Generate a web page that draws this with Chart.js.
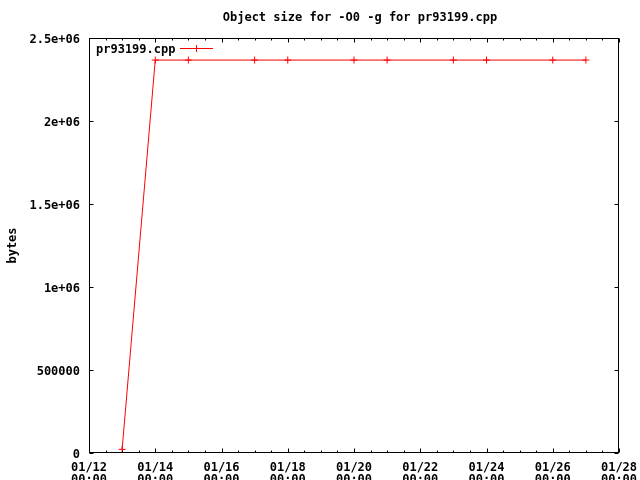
<!DOCTYPE html>
<html>
<head>
<meta charset="utf-8">
<script src="https://cdn.jsdelivr.net/npm/chart.js@4.4.1/dist/chart.umd.min.js"></script>
<style>
html,body{margin:0;padding:0;background:#fff;}
canvas{display:block;}
</style>
</head>
<body>
<canvas id="c" width="640" height="480"></canvas>
<script>
// ---- data ----
const dates = ['01/13','01/14','01/15','01/17','01/18','01/20','01/21','01/23','01/24','01/26','01/27'];
const sizes = [22000, 2367000, 2367000, 2367000, 2367000, 2367000, 2367000, 2367000, 2367000, 2367000, 2367000];
const xTickLabels = ['01/12','01/14','01/16','01/18','01/20','01/22','01/24','01/26','01/28'];
const xTimeLabel = '00:00';
const yTickLabels = ['0','500000','1e+06','1.5e+06','2e+06','2.5e+06'];
const seriesName = 'pr93199.cpp';
const titleText = 'Object size for -O0 -g for pr93199.cpp';
const yTitle = 'bytes';

const FONT = "'DejaVu Sans Mono', 'Liberation Mono', monospace";
const startDay = 12;
const dayOf = s => parseInt(s.split('/')[1], 10) - startDay;
const points = dates.map((d, i) => ({x: dayOf(d), y: sizes[i]}));

const framePlugin = {
  id: 'frame',
  afterDraw(chart) {
    const ctx = chart.ctx, a = chart.chartArea;
    const xs = chart.scales.x, ys = chart.scales.y;
    const L = Math.round(a.left) + 0.5, R = Math.round(a.right) - 0.5;
    const T = Math.round(a.top) + 0.5, B = Math.round(a.bottom) - 0.5;
    ctx.save();
    ctx.strokeStyle = '#000';
    ctx.lineWidth = 1;
    ctx.beginPath();
    // x ticks (major every 2 days, minor every 12 h)
    for (let v = xs.min; v <= xs.max + 1e-9; v += 0.5) {
      const px = Math.round(xs.getPixelForValue(v)) + 0.5;
      const len = (Math.abs(v % 2) < 1e-9) ? 4 : 2;
      ctx.moveTo(px, B); ctx.lineTo(px, B - len);
      ctx.moveTo(px, T); ctx.lineTo(px, T + len);
    }
    // y ticks
    for (let v = ys.min; v <= ys.max + 1; v += 500000) {
      const py = Math.round(ys.getPixelForValue(v)) + 0.5;
      ctx.moveTo(L, py); ctx.lineTo(L + 4, py);
      ctx.moveTo(R, py); ctx.lineTo(R - 4, py);
    }
    ctx.stroke();
    ctx.strokeRect(L, T, R - L, B - T);

    // title
    ctx.fillStyle = '#000';
    ctx.font = 'bold 12px ' + FONT;
    ctx.textAlign = 'center';
    ctx.textBaseline = 'middle';
    ctx.fillText(titleText, 360, 18);

    // legend
    const ds = chart.data.datasets[0];
    ctx.textAlign = 'left';
    ctx.fillText(ds.label, 96, 50);
    ctx.strokeStyle = ds.borderColor;
    ctx.beginPath();
    ctx.moveTo(180, 48.5); ctx.lineTo(213, 48.5);
    ctx.moveTo(196.5, 45); ctx.lineTo(196.5, 52);
    ctx.stroke();
    ctx.restore();
  }
};

new Chart(document.getElementById('c'), {
  type: 'line',
  data: {
    datasets: [{
      label: seriesName,
      data: points,
      borderColor: '#ff0000',
      backgroundColor: '#ff0000',
      borderWidth: 1,
      pointStyle: 'cross',
      pointRadius: 3.5,
      pointBorderWidth: 1,
      pointHoverRadius: 3.5,
      tension: 0,
      fill: false
    }]
  },
  options: {
    responsive: false,
    animation: false,
    devicePixelRatio: 1,
    layout: {padding: {top: 38, right: 21, left: 0, bottom: 0}},
    plugins: {legend: {display: false}, title: {display: false}, tooltip: {enabled: false}},
    scales: {
      x: {
        type: 'linear',
        min: 0, max: 16,
        grid: {display: false, drawTicks: false},
        border: {display: false},
        afterFit: s => { s.height = 27; s.paddingLeft = 0; s.paddingRight = 0; },
        ticks: {
          stepSize: 2, autoSkip: false, maxRotation: 0, padding: 9,
          color: '#000', font: {family: FONT, size: 12, weight: 'bold', lineHeight: 1.0},
          callback: v => [xTickLabels[Math.round(v / 2)], xTimeLabel]
        }
      },
      y: {
        min: 0, max: 2500000,
        grid: {display: false, drawTicks: false},
        border: {display: false},
        afterFit: s => { s.width = 89; s.paddingTop = 0; s.paddingBottom = 0; },
        title: {display: true, text: yTitle, color: '#000', padding: {top: 6, bottom: 4},
                font: {family: FONT, size: 12, weight: 'bold'}},
        ticks: {
          stepSize: 500000, autoSkip: false, padding: 9, labelOffset: 2,
          color: '#000', font: {family: FONT, size: 12, weight: 'bold'},
          callback: v => yTickLabels[Math.round(v / 500000)]
        }
      }
    }
  },
  plugins: [framePlugin]
});
</script>
</body>
</html>
